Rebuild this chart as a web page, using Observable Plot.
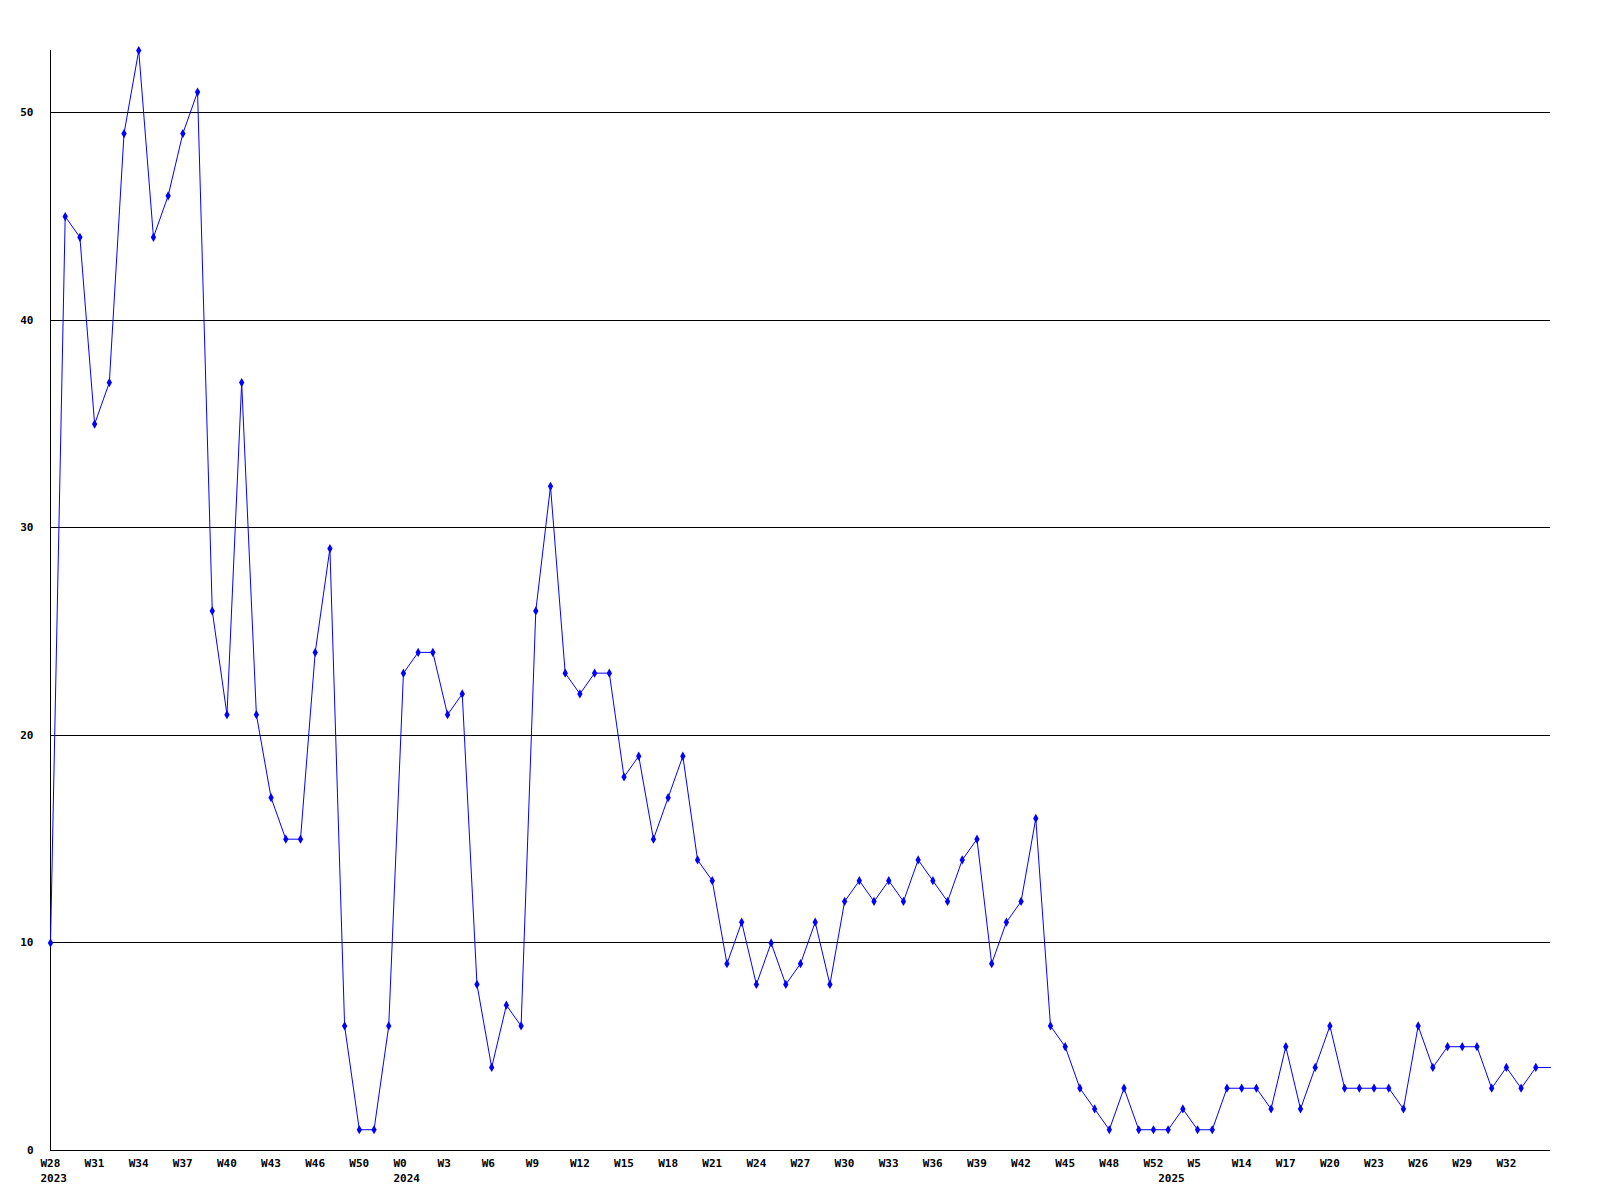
<!DOCTYPE html>
<html><head><meta charset="utf-8">
<script src="https://cdn.jsdelivr.net/npm/d3@7"></script>
<script src="https://cdn.jsdelivr.net/npm/@observablehq/plot@0.6"></script>
<style>html,body{margin:0;padding:0;background:#fff}</style>
</head><body><div id="chart"></div>
<script>
// Weekly values, one per point, in order
const values = [10,45,44,35,37,49,53,44,46,49,51,26,21,37,21,17,15,15,24,29,
  6,1,1,6,23,24,24,21,22,8,4,7,6,26,32,23,22,23,23,18,
  19,15,17,19,14,13,9,11,8,10,8,9,11,8,12,13,12,13,12,14,
  13,12,14,15,9,11,12,16,6,5,3,2,1,3,1,1,1,2,1,1,
  3,3,3,2,5,2,4,6,3,3,3,3,2,6,4,5,5,5,3,4,
  3,4,4];
// Week labels shown on every third point
const weekLabels = ["W28","W31","W34","W37","W40","W43","W46","W50","W0","W3","W6","W9",
  "W12","W15","W18","W21","W24","W27","W30","W33","W36","W39","W42","W45",
  "W48","W52","W5","W14","W17","W20","W23","W26","W29","W32"];
const labelStep = 3;
// Year labels and the point index they sit under
const yearLabels = ["2023","2024","2025"];
const yearIndex = [0,24,76];
const yTicks = [0,10,20,30,40,50];
const gridTicks = [10,20,30,40,50];

const weekTicks = weekLabels.map((_, k) => k * labelStep);
const weekMap = new Map(weekTicks.map((t, k) => [t, weekLabels[k]]));
const yearMap = new Map(yearIndex.map((t, k) => [t, yearLabels[k]]));
const n = values.length;

const chart = Plot.plot({
  width: 1600,
  height: 1200,
  marginLeft: 50,
  marginRight: 50,
  marginTop: 50,
  marginBottom: 50,
  style: {fontFamily: "'DejaVu Sans Mono', monospace", fontSize: "11px", fontWeight: "bold", color: "black", background: "white"},
  x: {domain: [0, n - 1]},
  y: {domain: [0, 53]},
  marks: [
    Plot.gridY(gridTicks, {stroke: "black", strokeOpacity: 1, strokeWidth: 1, shapeRendering: "crispEdges"}),
    Plot.ruleY([0], {stroke: "black", strokeWidth: 1, shapeRendering: "crispEdges"}),
    Plot.ruleX([0], {stroke: "black", strokeWidth: 1, shapeRendering: "crispEdges"}),
    Plot.axisY(yTicks, {tickSize: 0, tickPadding: 17, tickFormat: d => String(d), label: null}),
    Plot.axisX(weekTicks, {tickSize: 0, tickPadding: 9, textAnchor: "start", dx: -10, tickFormat: t => weekMap.get(t), label: null}),
    Plot.axisX(yearIndex, {tickSize: 0, tickPadding: 24, textAnchor: "start", dx: -10, tickFormat: t => yearMap.get(t), label: null}),
    Plot.line(values, {x: (d, i) => i, y: d => d, stroke: "#0000ff", strokeWidth: 1}),
    Plot.dot(values, {x: (d, i) => i, y: d => d, filter: (d, i) => i < n - 1, symbol: "diamond", r: 2.8, fill: "#0000ff", stroke: "none"})
  ]
});
document.getElementById("chart").appendChild(chart);
</script>
</body></html>
